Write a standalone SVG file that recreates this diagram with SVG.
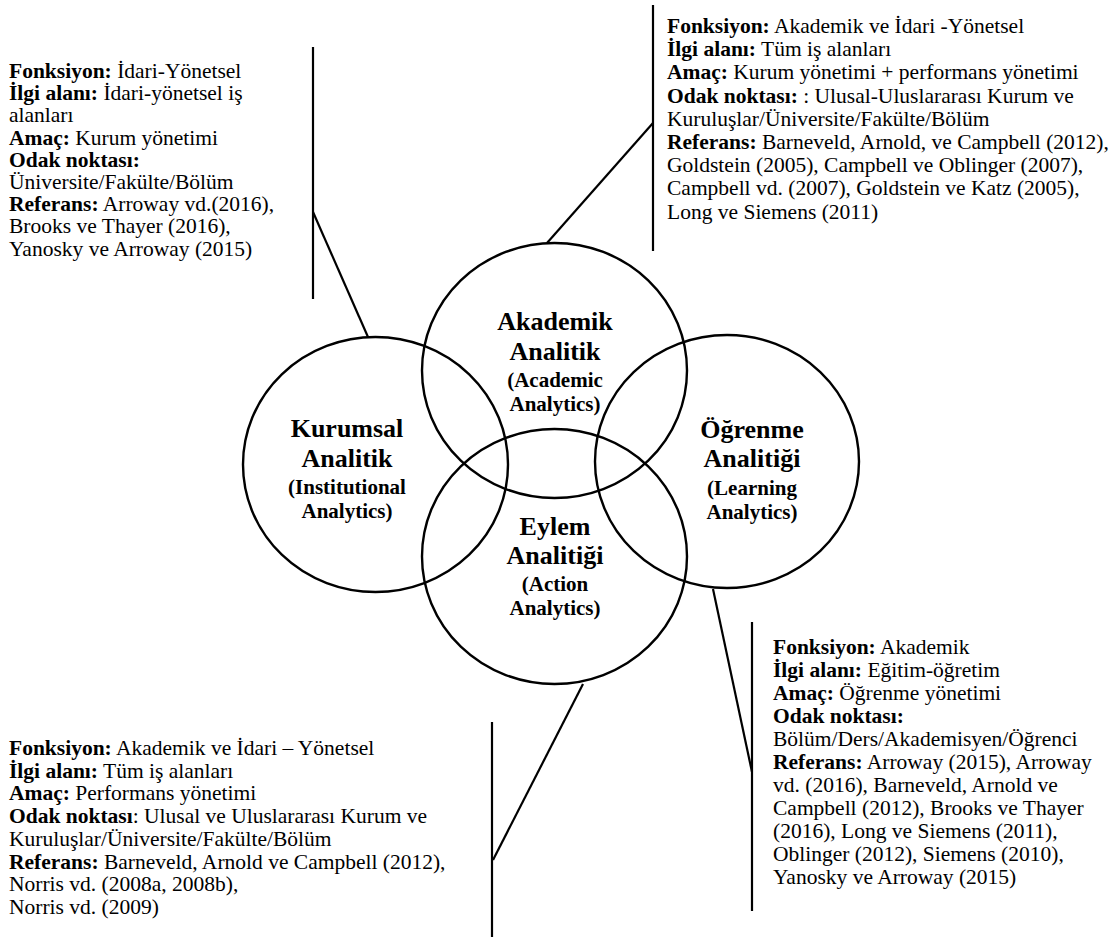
<svg xmlns="http://www.w3.org/2000/svg" width="1115" height="939" viewBox="0 0 1115 939">
<style>
.c{fill:none;stroke:#000;stroke-width:2.4}
.l{fill:none;stroke:#000;stroke-width:2.2}
.t{font-family:"Liberation Serif","Times New Roman",serif;font-size:21.5px;fill:#000}
.b{font-weight:bold}
.h{font-family:"Liberation Serif","Times New Roman",serif;font-weight:bold;fill:#000;text-anchor:middle}
.h1{font-size:26px}
.h2{font-size:21px}
</style>
<rect width="1115" height="939" fill="#fff"/>
<g id="connectors">
<line class="l" x1="313" y1="47" x2="313" y2="299"/>
<line class="l" x1="313" y1="212" x2="368" y2="337"/>
<line class="l" x1="653" y1="5" x2="653" y2="251"/>
<line class="l" x1="653" y1="123" x2="547" y2="243"/>
<line class="l" x1="492" y1="722" x2="492" y2="937"/>
<line class="l" x1="583" y1="684" x2="493" y2="860"/>
<line class="l" x1="752" y1="622" x2="752" y2="911"/>
<line class="l" x1="713" y1="589" x2="752" y2="772"/>
</g>
<g id="kurumsal">
<ellipse class="c" cx="375.5" cy="464.5" rx="132.5" ry="127.5"/>
<text class="h h1" x="347" y="437">Kurumsal</text>
<text class="h h1" x="347" y="467">Analitik</text>
<text class="h h2" x="347" y="494">(Institutional</text>
<text class="h h2" x="347" y="518">Analytics)</text>
</g>
<g id="akademik">
<ellipse class="c" cx="554.5" cy="370.5" rx="132.5" ry="127.5"/>
<text class="h h1" x="555" y="330">Akademik</text>
<text class="h h1" x="555" y="360">Analitik</text>
<text class="h h2" x="555" y="387">(Academic</text>
<text class="h h2" x="555" y="411">Analytics)</text>
</g>
<g id="eylem">
<ellipse class="c" cx="554.5" cy="556.5" rx="132.5" ry="127.5"/>
<text class="h h1" x="555" y="535">Eylem</text>
<text class="h h1" x="555" y="564">Analitiği</text>
<text class="h h2" x="555" y="591">(Action</text>
<text class="h h2" x="555" y="615">Analytics)</text>
</g>
<g id="ogrenme">
<ellipse class="c" cx="727" cy="461.5" rx="132" ry="126.5"/>
<text class="h h1" x="752" y="438">Öğrenme</text>
<text class="h h1" x="752" y="467">Analitiği</text>
<text class="h h2" x="752" y="495">(Learning</text>
<text class="h h2" x="752" y="519">Analytics)</text>
</g>
<g id="note-kurumsal">
<text class="t" x="9" y="78"><tspan class="b">Fonksiyon:</tspan> İdari-Yönetsel</text>
<text class="t" x="9" y="100.2"><tspan class="b">İlgi alanı:</tspan> İdari-yönetsel iş</text>
<text class="t" x="9" y="122.4">alanları</text>
<text class="t" x="9" y="144.6"><tspan class="b">Amaç:</tspan> Kurum yönetimi</text>
<text class="t" x="9" y="166.8"><tspan class="b">Odak noktası:</tspan></text>
<text class="t" x="9" y="189">Üniversite/Fakülte/Bölüm</text>
<text class="t" x="9" y="211.2"><tspan class="b">Referans:</tspan> Arroway vd.(2016),</text>
<text class="t" x="9" y="233.4">Brooks ve Thayer (2016),</text>
<text class="t" x="9" y="255.6">Yanosky ve Arroway (2015)</text>
</g>
<g id="note-akademik">
<text class="t" x="667" y="33"><tspan class="b">Fonksiyon:</tspan> Akademik ve İdari -Yönetsel</text>
<text class="t" x="667" y="56.2"><tspan class="b">İlgi alanı:</tspan> Tüm iş alanları</text>
<text class="t" x="667" y="79.4"><tspan class="b">Amaç:</tspan> Kurum yönetimi + performans yönetimi</text>
<text class="t" x="667" y="102.6"><tspan class="b">Odak noktası:</tspan> : Ulusal-Uluslararası Kurum ve</text>
<text class="t" x="667" y="125.8">Kuruluşlar/Üniversite/Fakülte/Bölüm</text>
<text class="t" x="667" y="149"><tspan class="b">Referans:</tspan> Barneveld, Arnold, ve Campbell (2012),</text>
<text class="t" x="667" y="172.2">Goldstein (2005), Campbell ve Oblinger (2007),</text>
<text class="t" x="667" y="195.4">Campbell vd. (2007), Goldstein ve Katz (2005),</text>
<text class="t" x="667" y="218.6">Long ve Siemens (2011)</text>
</g>
<g id="note-eylem">
<text class="t" x="9" y="755"><tspan class="b">Fonksiyon:</tspan> Akademik ve İdari – Yönetsel</text>
<text class="t" x="9" y="777.7"><tspan class="b">İlgi alanı:</tspan> Tüm iş alanları</text>
<text class="t" x="9" y="800.4"><tspan class="b">Amaç:</tspan> Performans yönetimi</text>
<text class="t" x="9" y="823.1"><tspan class="b">Odak noktası</tspan>: Ulusal ve Uluslararası Kurum ve</text>
<text class="t" x="9" y="845.8">Kuruluşlar/Üniversite/Fakülte/Bölüm</text>
<text class="t" x="9" y="868.5"><tspan class="b">Referans:</tspan> Barneveld, Arnold ve Campbell (2012),</text>
<text class="t" x="9" y="891.2">Norris vd. (2008a, 2008b),</text>
<text class="t" x="9" y="913.9">Norris vd. (2009)</text>
</g>
<g id="note-ogrenme">
<text class="t" x="773" y="654"><tspan class="b">Fonksiyon:</tspan> Akademik</text>
<text class="t" x="773" y="677"><tspan class="b">İlgi alanı:</tspan> Eğitim-öğretim</text>
<text class="t" x="773" y="700"><tspan class="b">Amaç:</tspan> Öğrenme yönetimi</text>
<text class="t" x="773" y="723"><tspan class="b">Odak noktası:</tspan></text>
<text class="t" x="773" y="746">Bölüm/Ders/Akademisyen/Öğrenci</text>
<text class="t" x="773" y="769"><tspan class="b">Referans:</tspan> Arroway (2015), Arroway</text>
<text class="t" x="773" y="792">vd. (2016), Barneveld, Arnold ve</text>
<text class="t" x="773" y="815">Campbell (2012), Brooks ve Thayer</text>
<text class="t" x="773" y="838">(2016), Long ve Siemens (2011),</text>
<text class="t" x="773" y="861">Oblinger (2012), Siemens (2010),</text>
<text class="t" x="773" y="884">Yanosky ve Arroway (2015)</text>
</g>
</svg>
